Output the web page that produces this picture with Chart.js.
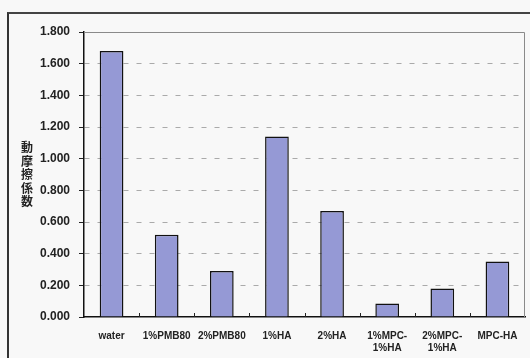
<!DOCTYPE html>
<html>
<head>
<meta charset="utf-8">
<script src="https://cdn.jsdelivr.net/npm/chart.js"></script>
<style>
  html, body { margin: 0; padding: 0; background: #f8f8f8; overflow: hidden; }
  #wrap { position: relative; width: 530px; height: 358px; }
  #frame { position: absolute; left: 7px; top: 12px; width: 600px; height: 400px;
           border-left: 2px solid #333; border-top: 2px solid #444; }
  #c { position: absolute; left: 0; top: 0; }
</style>
</head>
<body>
<div id="wrap">
  <div id="frame"></div>
  <canvas id="c" width="530" height="358"></canvas>
</div>
<script>
  // 動摩擦係数 per sample
  const samples = ['water', '1%PMB80', '2%PMB80', '1%HA', '2%HA', ['1%MPC-', '1%HA'], ['2%MPC-', '1%HA'], 'MPC-HA'];
  const friction = [1.68, 0.52, 0.29, 1.14, 0.67, 0.085, 0.18, 0.35];
  const yTitle = '動摩擦係数';
  const yMin = 0, yMax = 1.8, yStep = 0.2;

  // vertical (upright) axis title + plot frame + inward x ticks
  const extras = {
    id: 'extras',
    beforeDatasetsDraw(chart) {
      const {ctx, chartArea: a} = chart;
      ctx.save();
      ctx.strokeStyle = '#8a8a8a';
      ctx.lineWidth = 1;
      ctx.beginPath();
      ctx.moveTo(a.left, a.top + 0.5);
      ctx.lineTo(a.right - 0.5, a.top + 0.5);
      ctx.lineTo(a.right - 0.5, a.bottom);
      ctx.stroke();
      ctx.restore();
    },
    afterDraw(chart) {
      const {ctx, chartArea: a} = chart;
      const x = chart.scales.x;
      ctx.save();
      // small tick marks between categories, pointing up
      ctx.strokeStyle = '#222';
      ctx.lineWidth = 1;
      for (let i = 1; i < samples.length; i++) {
        const px = Math.round((x.getPixelForTick(i - 1) + x.getPixelForTick(i)) / 2) + 0.5;
        ctx.beginPath();
        ctx.moveTo(px, a.bottom);
        ctx.lineTo(px, a.bottom - 4);
        ctx.stroke();
      }
      // title, one character per line
      ctx.fillStyle = '#222';
      ctx.font = 'bold 12px "Noto Sans CJK JP"';
      ctx.textAlign = 'center';
      ctx.textBaseline = 'middle';
      const step = 13.5;
      const cy = (a.top + a.bottom) / 2;
      const y0 = cy - (yTitle.length - 1) * step / 2;
      for (let i = 0; i < yTitle.length; i++) {
        ctx.fillText(yTitle[i], 27, y0 + i * step);
      }
      ctx.restore();
    }
  };

  new Chart(document.getElementById('c'), {
    type: 'bar',
    data: {
      labels: samples,
      datasets: [{
        data: friction,
        backgroundColor: '#9599d5',
        borderColor: '#111',
        borderWidth: 1.5,
        borderSkipped: 'bottom',
        barPercentage: 0.43,
        categoryPercentage: 1
      }]
    },
    options: {
      responsive: false,
      animation: false,
      layout: { padding: { left: 0, top: 32, right: 5, bottom: 0 } },
      plugins: { legend: { display: false }, tooltip: { enabled: false } },
      scales: {
        x: {
          afterFit: s => { s.height = 41; },
          grid: { display: false },
          border: { color: '#111', width: 1.5 },
          ticks: {
            color: '#222',
            font: { family: '"Liberation Sans", Arial', size: 10, weight: 'bold', lineHeight: 1.2 },
            padding: 5,
            maxRotation: 0,
            autoSkip: false
          }
        },
        y: {
          min: yMin,
          max: yMax,
          afterFit: s => { s.width = 84; },
          grid: {
            color: c => (c.tick && (c.tick.value === yMin || Math.abs(c.tick.value - yMax) < 1e-9)) ? 'rgba(0,0,0,0)' : '#aaaaaa',
            tickColor: '#222',
            tickLength: 5,
            tickBorderDash: []
          },
          border: { color: '#111', width: 1.5, dash: [5, 8] },
          ticks: {
            stepSize: yStep,
            color: '#222',
            padding: 9,
            font: { family: '"Liberation Sans", Arial', size: 12, weight: 'bold' },
            callback: v => v.toFixed(3)
          }
        }
      }
    },
    plugins: [extras]
  });
</script>
</body>
</html>
